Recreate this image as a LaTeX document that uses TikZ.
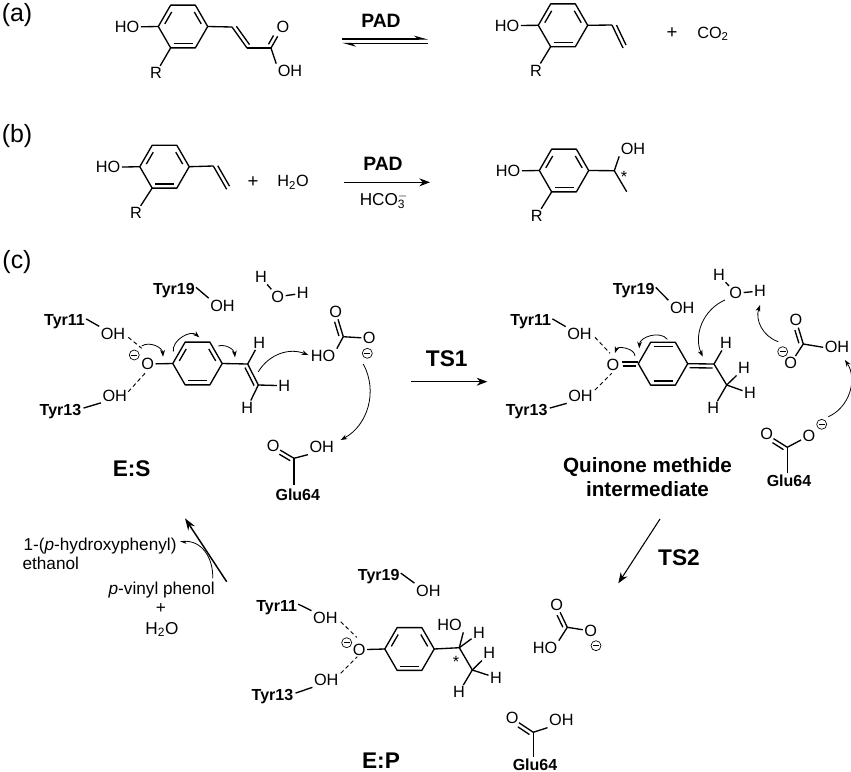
\documentclass[tikz,border=0pt]{standalone}
\usepackage{fontspec}
\setmainfont{Liberation Sans}
\usetikzlibrary{arrows.meta,calc}
\newcommand{\dbond}[4][0pt]{%
	\draw[bond,shorten >=#1] ($(#2)$) -- ($(#3)$);
	\draw[bond,shorten <=1.5pt,shorten >=#1+1pt] ($(#2)!#4!90:(#3)$) -- ($(#3)!#4!-90:(#2)$);
}
\tikzset{
	bond/.style={line width=1pt,line join=round},
	atom/.style={inner sep=1pt,font=\fontsize{12.2}{14}\selectfont},
	sign/.style={inner sep=0pt,font=\fontsize{14}{16}\selectfont},
	tyr/.style={inner sep=0pt,anchor=base,font=\fontsize{12}{14}\selectfont\bfseries},
	enz/.style={inner sep=0pt,anchor=base,font=\fontsize{14.5}{17}\selectfont\bfseries},
	state/.style={inner sep=0pt,anchor=base,font=\fontsize{17}{20}\selectfont\bfseries},
	title/.style={inner sep=0pt,anchor=base,font=\fontsize{15.5}{18}\selectfont\bfseries},
	panel/.style={inner sep=0pt,anchor=base,font=\fontsize{18.7}{22}\selectfont},
	note/.style={inner sep=0pt,anchor=base,font=\fontsize{12.9}{15}\selectfont},
	negc/.style={circle,draw,line width=0.5pt,inner sep=0pt,minimum size=7.5pt},
	hbond/.style={line width=0.7pt,dash pattern=on 3pt off 2.2pt},
	push/.style={line width=0.6pt,-{Stealth[length=5pt,width=3.6pt]}},
	step arrow/.style={line width=0.8pt,-{Stealth[length=8pt,width=6pt]}},
	benzene/.pic={
		\coordinate (-r) at (24.7,0);
		\coordinate (-tr) at (12.35,-21.4);
		\coordinate (-tl) at (-12.35,-21.4);
		\coordinate (-l) at (-24.7,0);
		\coordinate (-bl) at (-12.35,21.4);
		\coordinate (-br) at (12.35,21.4);
		\draw[bond] (-r) -- (-tr) -- (-tl) -- (-l) -- (-bl) -- (-br) -- cycle;
		\draw[bond] (-18.2,-2.6) -- (-11.3,-14.5);
		\draw[bond] (18.2,-2.6) -- (11.3,-14.5);
		\draw[bond] (-9.5,17.3) -- (9.5,17.3);
	},
	quinone/.pic={
		\coordinate (-r) at (24.7,0);
		\coordinate (-tr) at (12.35,-21.4);
		\coordinate (-tl) at (-12.35,-21.4);
		\coordinate (-l) at (-24.7,0);
		\coordinate (-bl) at (-12.35,21.4);
		\coordinate (-br) at (12.35,21.4);
		\draw[bond] (-r) -- (-tr) -- (-tl) -- (-l) -- (-bl) -- (-br) -- cycle;
		\draw[bond] (-9.5,-17.3) -- (9.5,-17.3);
		\draw[bond] (-9.5,17.3) -- (9.5,17.3);
	}
}
\begin{document}
\begin{tikzpicture}[x=0.75pt,y=-0.75pt]
	\useasboundingbox (0,0) rectangle (851,772);

	% panel (a)
	\node[panel] (pa) at (17,21) {(a)};
	\pic (aring) at (183,26.5) {benzene};
	\node[atom] (aho) at (127,27) {HO};
	\node[atom] (ar) at (156,73) {R};
	\coordinate (aca) at (232,27);
	\coordinate (acb) at (247,48);
	\coordinate (acc) at (271,48);
	\node[atom] (ao) at (283,27) {O};
	\node[atom] (aoh) at (290,71) {OH};
	\draw[bond] (aho) -- (aring-l);
	\draw[bond] (aring-bl) -- (ar);
	\draw[bond] (aring-r) -- (aca);
	\dbond{aca}{acb}{3pt}
	\draw[bond] (acb) -- (acc);
	\dbond[8pt]{acc}{ao}{3pt}
	\draw[bond] (acc) -- (aoh.north west);
	\node[enz] (apad) at (381,27) {PAD};
	\coordinate (eqa) at (342,39);
	\coordinate (eqb) at (428,39);
	\coordinate (eqc) at (342,43.3);
	\coordinate (eqd) at (428,43.3);
	\draw[line width=0.8pt,-{Stealth[length=9pt,width=5pt,left]}] (eqa) -- (eqb);
	\draw[line width=0.8pt,-{Stealth[length=9pt,width=5pt,left]}] (eqd) -- (eqc);
	\pic (aprod) at (563,25.3) {benzene};
	\node[atom] (bho) at (507,25.6) {HO};
	\node[atom] (br) at (536,70.7) {R};
	\coordinate (ava) at (612,25);
	\coordinate (avb) at (623,48);
	\draw[bond] (bho) -- (aprod-l);
	\draw[bond] (aprod-bl) -- (br);
	\draw[bond] (aprod-r) -- (ava);
	\dbond{ava}{avb}{3pt}
	\node[sign] (aplus) at (672,32.7) {+};
	\node[atom,anchor=base,inner sep=0pt] (aco) at (713,38.3) {CO\textsubscript{2}};

	% panel (b)
	\node[panel] (pb) at (17,142) {(b)};
	\pic (bring) at (164.5,166.7) {benzene};
	\node[atom] (cho) at (108,167.3) {HO};
	\node[atom] (cr) at (136,213) {R};
	\coordinate (bva) at (213.3,166);
	\coordinate (bvb) at (226.7,189.3);
	\draw[bond] (cho) -- (bring-l);
	\draw[bond] (bring-bl) -- (cr);
	\draw[bond] (bring-r) -- (bva);
	\dbond{bva}{bvb}{3pt}
	\node[sign] (bplus) at (253,181.7) {+};
	\node[atom,anchor=base,inner sep=0pt] (bwat) at (293,186.7) {H\textsubscript{2}O};
	\node[enz] (bpad) at (383,170) {PAD};
	\coordinate (bara) at (344,182.3);
	\coordinate (barb) at (430,182.3);
	\draw[step arrow] (bara) -- (barb);
	\node[note] (bhco) at (384,205.7) {HCO\rlap{\textsubscript{3}}\textsuperscript{$-$}};
	\pic (bprod) at (564,170.5) {benzene};
	\node[atom] (dho) at (508,171) {HO};
	\node[atom] (dr) at (536.7,216) {R};
	\coordinate (bch) at (614.3,170.7);
	\coordinate (bme) at (626.7,191.7);
	\node[atom] (boh) at (633,149) {OH};
	\node[atom,anchor=base,inner sep=0pt] (bstar) at (624,182) {*};
	\draw[bond] (dho) -- (bprod-l);
	\draw[bond] (bprod-bl) -- (dr);
	\draw[bond] (bprod-r) -- (bch) -- (bme);
	\draw[bond] (bch) -- (boh.south west);

	% panel (c), E:S
	\node[panel] (pc) at (17,268) {(c)};
	\pic (sring) at (197.5,363.5) {benzene};
	\node[atom] (so) at (147.7,364) {O};
	\node[negc] (sneg) at (134.3,355) {\rule{4.4pt}{0.5pt}};
	\node[tyr] (styra) at (64.5,325.7) {Tyr11};
	\node[atom] (sokh) at (113,333.7) {OH};
	\node[tyr] (styrb) at (60.5,415) {Tyr13};
	\node[atom] (sokl) at (114.7,395.5) {OH};
	\node[tyr] (styrc) at (174,294.3) {Tyr19};
	\node[atom] (sokm) at (222.5,305.5) {OH};
	\draw[bond] (so) -- (sring-l);
	\draw[bond] ($(styra.east)+(1,-3)$) -- (sokh.north west);
	\draw[bond] ($(styrb.east)+(2,-3)$) -- (sokl.south west);
	\draw[bond] ($(styrc.east)+(1,-3)$) -- (sokm.north west);
	\coordinate (shba) at (128.3,337.3);
	\coordinate (shbb) at (141.7,348.3);
	\coordinate (shbc) at (128.3,391.7);
	\coordinate (shbd) at (145,373.3);
	\draw[hbond] (shba) -- (shbb);
	\draw[hbond] (shbc) -- (shbd);
	\node[atom] (swha) at (261,277.3) {H};
	\node[atom] (swo) at (277.7,296.7) {O};
	\node[atom] (swhb) at (302.7,293.3) {H};
	\draw[bond] (swha) -- (swo);
	\draw[bond] (swo) -- (swhb);
	\coordinate (sca) at (247.7,364);
	\coordinate (scb) at (258.3,385);
	\node[atom] (sha) at (259.3,342.7) {H};
	\node[atom] (shb) at (284.3,385.7) {H};
	\node[atom] (shc) at (247.3,407.7) {H};
	\draw[bond] (sring-r) -- (sca);
	\dbond{sca}{scb}{-3pt}
	\draw[bond] (sca) -- (sha);
	\draw[bond] (scb) -- (shb);
	\draw[bond] (scb) -- (shc);
	\coordinate (scc) at (343.3,336.7);
	\node[atom] (sot) at (335.7,311.7) {O};
	\node[atom] (sor) at (369.3,338.3) {O};
	\node[atom] (sho) at (323,356) {HO};
	\node[negc] (snegb) at (367.3,353.3) {\rule{4.4pt}{0.5pt}};
	\dbond[6pt]{scc}{sot}{3pt}
	\draw[bond] (scc) -- (sor);
	\draw[bond] (scc) -- (sho.north east);
	\coordinate (sgc) at (294,458.3);
	\coordinate (sgd) at (294,485);
	\node[atom] (sgo) at (273.3,446) {O};
	\node[atom] (sgh) at (321.7,447.3) {OH};
	\node[tyr,anchor=center] (sglu) at (297.8,494.5) {Glu64};
	\dbond[6pt]{sgc}{sgo}{3pt}
	\draw[bond] (sgc) -- (sgh.south west);
	\draw[bond] (sgc) -- (sgd);
	\node[state] (es) at (131.7,476) {E:S};
	% electron pushing, E:S
	\coordinate (spa) at (141.7,346);
	\coordinate (spb) at (163,356.7);
	\coordinate (spc) at (173.3,351.7);
	\coordinate (spd) at (199.3,337.3);
	\coordinate (spe) at (218.3,346);
	\coordinate (spf) at (235,357.3);
	\coordinate (spg) at (258.3,371.7);
	\coordinate (sph) at (308.3,355);
	\coordinate (spi) at (363.3,364);
	\coordinate (spj) at (340.7,440);
	\draw[push] (spa) to[bend left=60] (spb);
	\draw[push] (spc) to[bend left=70] (spd);
	\draw[push] (spe) to[bend left=50] (spf);
	\draw[push] (spg) to[bend left=40] (sph);
	\draw[push] (spi) to[bend left=45] (spj);

	% TS1
	\node[state] (tsa) at (446.7,366.7) {TS1};
	\coordinate (tsaa) at (411,381.7);
	\coordinate (tsab) at (487.3,381.7);
	\draw[step arrow] (tsaa) -- (tsab);

	% quinone methide
	\pic (qring) at (663,363.7) {quinone};
	\node[atom] (qo) at (613,365) {O};
	\node[tyr] (qtyra) at (530.8,325.7) {Tyr11};
	\node[atom] (qokh) at (579.5,334) {OH};
	\node[tyr] (qtyrb) at (526.7,415) {Tyr13};
	\node[atom] (qokl) at (580.5,396) {OH};
	\node[tyr] (qtyrc) at (633.7,294.3) {Tyr19};
	\node[atom] (qokm) at (682.2,307.6) {OH};
	\coordinate (qcl) at (638.3,362);
	\coordinate (qoe) at (622,362);
	\dbond{qcl}{qoe}{3pt}
	\draw[bond] ($(qtyra.east)+(1,-3)$) -- (qokh.north west);
	\draw[bond] ($(qtyrb.east)+(2,-3)$) -- (qokl.south west);
	\draw[bond] ($(qtyrc.east)+(1,-3)$) -- (qokm.north west);
	\coordinate (qhba) at (595,337.3);
	\coordinate (qhbb) at (610,353.3);
	\coordinate (qhbc) at (595,390);
	\coordinate (qhbd) at (611.7,373.3);
	\draw[hbond] (qhba) -- (qhbb);
	\draw[hbond] (qhbc) -- (qhbd);
	\node[atom] (qwha) at (719,275) {H};
	\node[atom] (qwo) at (735.7,293.3) {O};
	\node[atom] (qwhb) at (760,291) {H};
	\draw[bond] (qwha) -- (qwo);
	\draw[bond] (qwo) -- (qwhb);
	\coordinate (qca) at (714,364);
	\coordinate (qcb) at (726.7,385);
	\node[atom] (qha) at (726,343.3) {H};
	\node[atom] (qhb) at (744,368.3) {H};
	\node[atom] (qhc) at (750,393.3) {H};
	\node[atom] (qhd) at (713.3,408.3) {H};
	\dbond{qring-r}{qca}{-3pt}
	\draw[bond] (qca) -- (qcb);
	\draw[bond] (qca) -- (qha);
	\draw[bond] (qcb) -- (qhb);
	\draw[bond] (qcb) -- (qhc);
	\draw[bond] (qcb) -- (qhd);
	\coordinate (qcc) at (803.3,344);
	\node[atom] (qot) at (796,320) {O};
	\node[atom] (qol) at (790.7,363.3) {O};
	\node[atom] (qoh) at (837,347.3) {OH};
	\node[negc] (qneg) at (782.7,351.7) {\rule{4.4pt}{0.5pt}};
	\dbond[6pt]{qcc}{qot}{3pt}
	\draw[bond] (qcc) -- (qol);
	\draw[bond] (qcc) -- (qoh.west);
	\coordinate (qgc) at (787.3,447.3);
	\coordinate (qgd) at (787.3,473.3);
	\node[atom] (qgo) at (766.7,434.3) {O};
	\node[atom] (qgp) at (809,435.7) {O};
	\node[negc] (qnegb) at (821.7,424.3) {\rule{4.4pt}{0.5pt}};
	\node[tyr,anchor=center] (qglu) at (789,481) {Glu64};
	\dbond[6pt]{qgc}{qgo}{3pt}
	\draw[bond] (qgc) -- (qgp);
	\draw[bond] (qgc) -- (qgd);
	\node[title,align=center,anchor=center] (qm) at (647.5,477) {Quinone methide\\intermediate};
	% electron pushing, quinone methide
	\coordinate (qpa) at (635,356);
	\coordinate (qpb) at (615,353);
	\coordinate (qpc) at (667.3,339.3);
	\coordinate (qpd) at (639.3,348.3);
	\coordinate (qpe) at (725,300);
	\coordinate (qpf) at (702.7,356.7);
	\coordinate (qpg) at (778.3,341.7);
	\coordinate (qph) at (760,305);
	\coordinate (qpi) at (828.3,416.7);
	\coordinate (qpj) at (845,360);
	\draw[push] (qpa) to[bend right=80] (qpb);
	\draw[push] (qpc) to[bend right=70] (qpd);
	\draw[push] (qpe) to[bend right=45] (qpf);
	\draw[push] (qpg) to[bend left=45] (qph);
	\draw[push] (qpi) to[bend right=50] (qpj);

	% TS2
	\node[state] (tsb) at (679,565) {TS2};
	\coordinate (tsba) at (660,519);
	\coordinate (tsbb) at (618.3,583.3);
	\draw[step arrow] (tsba) -- (tsbb);

	% E:P
	\pic (pring) at (409.5,649) {benzene};
	\node[atom] (po) at (359.3,649.7) {O};
	\node[negc] (pneg) at (346.7,642.7) {\rule{4.4pt}{0.5pt}};
	\node[tyr] (ptyra) at (276.7,611) {Tyr11};
	\node[atom] (pokh) at (325.3,618) {OH};
	\node[tyr] (ptyrb) at (272.5,700) {Tyr13};
	\node[atom] (pokl) at (326.2,680) {OH};
	\node[tyr] (ptyrc) at (378.7,580) {Tyr19};
	\node[atom] (pokm) at (428.3,590.5) {OH};
	\draw[bond] (po) -- (pring-l);
	\draw[bond] ($(ptyra.east)+(1,-3)$) -- (pokh.north west);
	\draw[bond] ($(ptyrb.east)+(2,-3)$) -- (pokl.south west);
	\draw[bond] ($(ptyrc.east)+(1,-3)$) -- (pokm.north west);
	\coordinate (phba) at (340.7,621.7);
	\coordinate (phbb) at (356.7,637.3);
	\coordinate (phbc) at (340.7,673.3);
	\coordinate (phbd) at (357.3,656.7);
	\draw[hbond] (phba) -- (phbb);
	\draw[hbond] (phbc) -- (phbd);
	\coordinate (pca) at (459.3,647.7);
	\coordinate (pcb) at (472.3,670);
	\node[atom] (pho) at (449.5,625) {HO};
	\node[atom] (pha) at (479,633.3) {H};
	\node[atom] (phb) at (489.3,653.3) {H};
	\node[atom] (phc) at (496,677.7) {H};
	\node[atom] (phd) at (459,692.3) {H};
	\node[atom,anchor=base,inner sep=0pt] (pstar) at (456,667) {*};
	\draw[bond] (pring-r) -- (pca) -- (pcb);
	\draw[bond] (pca) -- (pho.south east);
	\draw[bond] (pca) -- (pha);
	\draw[bond] (pcb) -- (phb);
	\draw[bond] (pcb) -- (phc);
	\draw[bond] (pcb) -- (phd);
	\coordinate (pcc) at (567.3,627.3);
	\node[atom] (pot) at (556.7,605) {O};
	\node[atom] (por) at (590.7,631) {O};
	\node[atom] (phco) at (545,648) {HO};
	\node[negc] (pnegb) at (596,645.7) {\rule{4.4pt}{0.5pt}};
	\dbond[6pt]{pcc}{pot}{3pt}
	\draw[bond] (pcc) -- (por);
	\draw[bond] (pcc) -- (phco.north east);
	\coordinate (pgc) at (533.3,732.3);
	\coordinate (pgd) at (533.3,757.3);
	\node[atom] (pgo) at (512.3,718.3) {O};
	\node[atom] (pgh) at (561.3,720.3) {OH};
	\node[tyr,anchor=center] (pglu) at (535,764.5) {Glu64};
	\dbond[6pt]{pgc}{pgo}{3pt}
	\draw[bond] (pgc) -- (pgh.south west);
	\draw[bond] (pgc) -- (pgd);
	\node[state] (ep) at (381,768) {E:P};

	% release of product
	\coordinate (rela) at (226.7,581.7);
	\coordinate (relb) at (185,518.3);
	\coordinate (relc) at (212.7,578.3);
	\coordinate (reld) at (180,541.7);
	\draw[line width=1.1pt,-{Stealth[length=9pt,width=6pt]}] (rela) -- (relb);
	\draw[line width=0.6pt,-{Stealth[length=4pt,width=4pt,left]}] (relc) to[out=88,in=5,looseness=1.1] (reld);
	\node[note,anchor=base west] (rpa) at (23.3,550.7) {1-(\textit{p}-hydroxyphenyl)};
	\node[note,anchor=base west] (rpb) at (22.3,569.3) {ethanol};
	\node[note] (rsa) at (161.7,594.3) {\textit{p}-vinyl phenol};
	\node[note] (rsb) at (161,613) {+};
	\node[note] (rsc) at (162,634) {H\textsubscript{2}O};
\end{tikzpicture}
\end{document}
